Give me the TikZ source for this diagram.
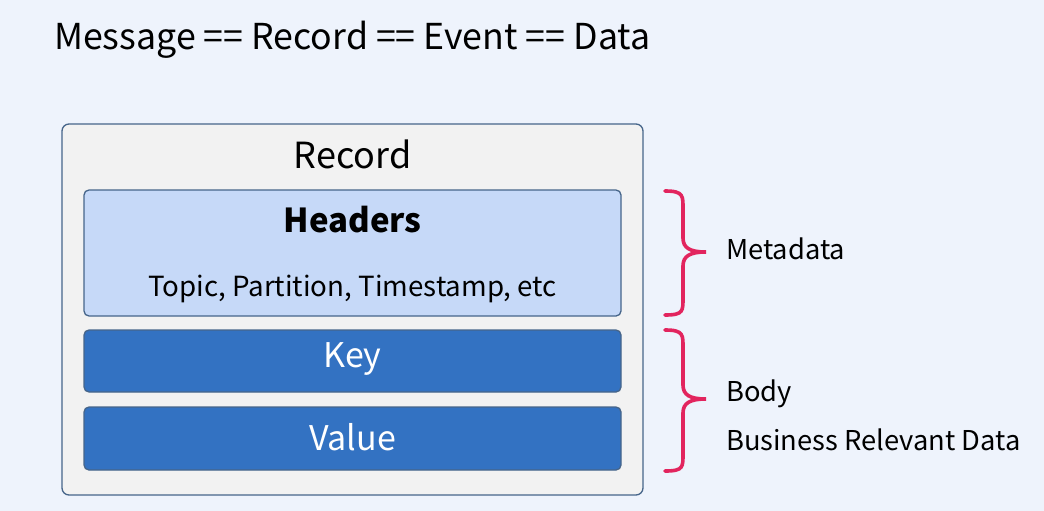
\documentclass[tikz,border=0pt]{standalone}
\usepackage{fontspec}
\setmainfont{Noto Sans CJK KR}
\usetikzlibrary{calc}
\definecolor{bg}{HTML}{EEF3FC}
\definecolor{outerfill}{HTML}{F2F2F2}
\definecolor{edge}{HTML}{46658A}
\definecolor{hdrfill}{HTML}{C6D9F8}
\definecolor{keyfill}{HTML}{3372C2}
\definecolor{bracecol}{HTML}{E2245E}
\begin{document}
\begin{tikzpicture}[x=1pt,y=-1pt,
  box/.style={draw=edge,line width=1.3pt,rounded corners=5pt},
  bracestyle/.style={draw=bracecol,line width=3.6pt,line cap=round},
  lbl/.style={inner sep=0pt,anchor=west}]
\fill[bg] (0,0) rectangle (1044,511);
\useasboundingbox (0,0) rectangle (1044,511);
\node[lbl] (title) at (54,40) {\fontsize{35.7}{40}\selectfont Message == Record == Event == Data};
\draw[box,fill=outerfill,rounded corners=7pt] (62,124) rectangle (643,495);
\node[inner sep=0pt] (record) at (352.5,154) {\fontsize{36}{40}\selectfont Record};
\draw[box,fill=hdrfill] (84,190) rectangle (621,316);
\node[inner sep=0pt] (hdrtitle) at (352.5,220) {\fontsize{33}{38}\selectfont\bfseries Headers};
\node[inner sep=0pt] (hdrsub) at (352.5,289) {\fontsize{27.7}{32}\selectfont Topic, Partition, Timestamp, etc};
\draw[box,fill=keyfill] (84,330) rectangle (621,392);
\node[inner sep=0pt,text=white] (key) at (352.5,359) {\fontsize{34}{38}\selectfont Key};
\draw[box,fill=keyfill] (84,407) rectangle (621,470);
\node[inner sep=0pt,text=white] (value) at (352.5,437) {\fontsize{34}{38}\selectfont Value};
% braces
\coordinate (b1t) at (665,191);
\coordinate (b1b) at (665,315);
\coordinate (b1m) at (706,252);
\draw[bracestyle] (b1t) .. controls (684,191) and (683,196) .. (683,210)
  -- (683,238) .. controls (683,248) and (690,252) .. (b1m)
  .. controls (690,252) and (683,256) .. (683,266)
  -- (683,296) .. controls (683,311) and (684,315) .. (b1b);
\coordinate (b2t) at (665,330);
\coordinate (b2b) at (665,471);
\coordinate (b2m) at (706,399);
\draw[bracestyle] (b2t) .. controls (684,330) and (683,335) .. (683,349)
  -- (683,385) .. controls (683,395) and (690,399) .. (b2m)
  .. controls (690,399) and (683,403) .. (683,413)
  -- (683,452) .. controls (683,467) and (684,471) .. (b2b);
\node[lbl] (meta) at (726,249) {\fontsize{27.3}{32}\selectfont Metadata};
\node[lbl] (body) at (726,394) {\fontsize{27.3}{32}\selectfont Body};
\node[lbl] (brd) at (726,440) {\fontsize{27.3}{32}\selectfont Business Relevant Data};
\end{tikzpicture}
\end{document}
